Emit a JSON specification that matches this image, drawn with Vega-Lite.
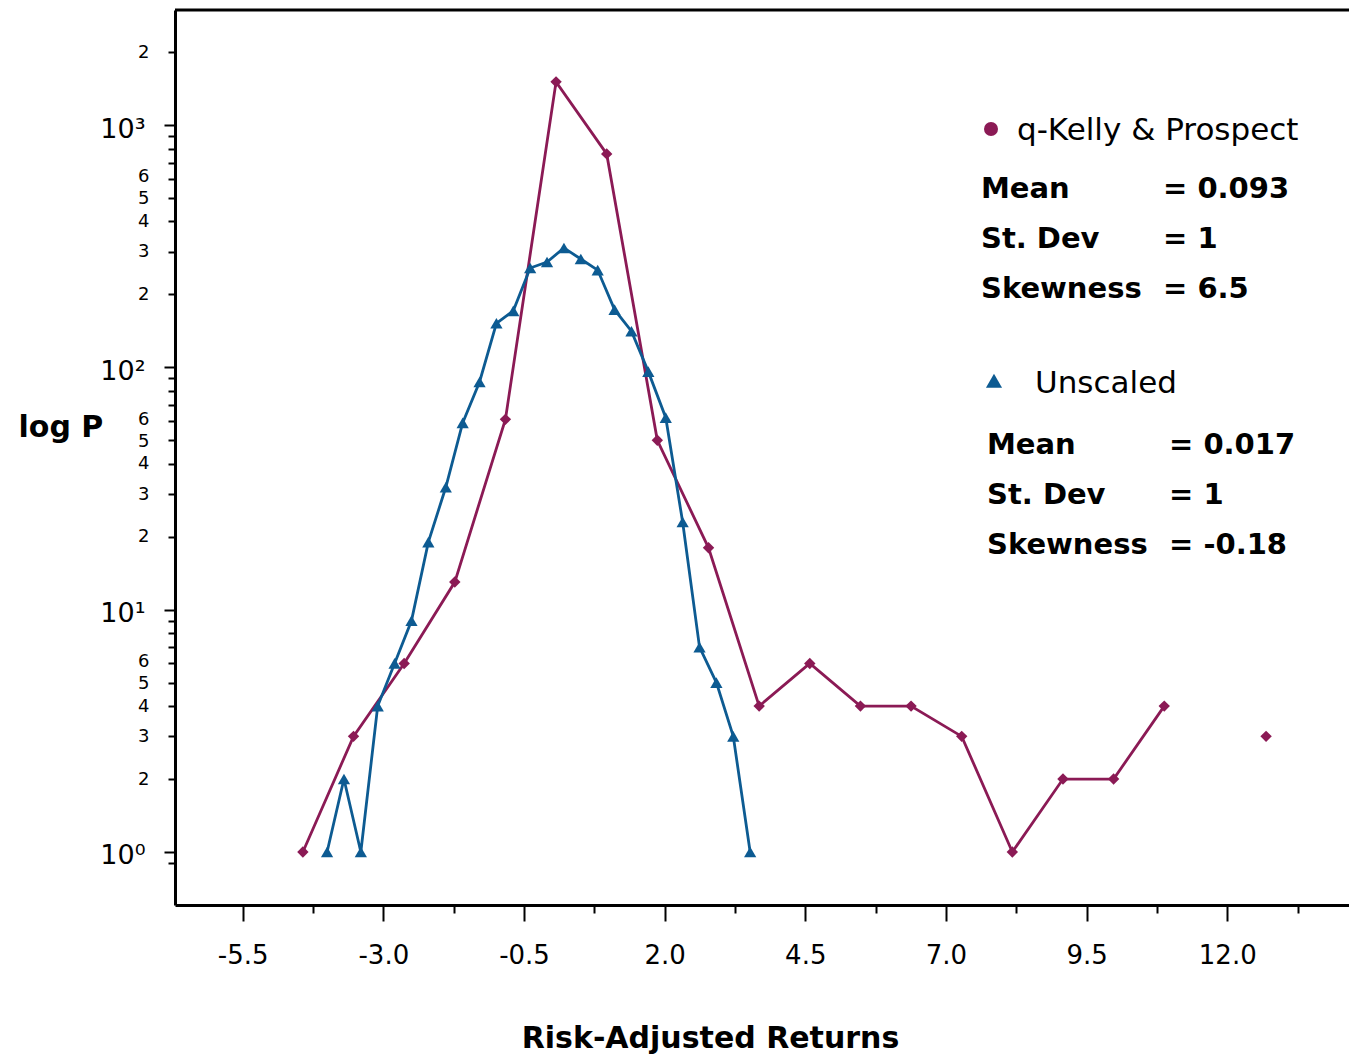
{
  "$schema": "https://vega.github.io/schema/vega-lite/v6.json",
  "width": 1174,
  "height": 895,
  "autosize": {"type": "none"},
  "padding": {"left": 175, "top": 10, "right": 0, "bottom": 152},
  "background": "white",
  "config": {"view": {"stroke": null}, "font": "DejaVu Sans"},
  "data": {
    "values": [
      {"series": "q-Kelly & Prospect", "x": -4.43, "p": 1},
      {"series": "q-Kelly & Prospect", "x": -3.53, "p": 3},
      {"series": "q-Kelly & Prospect", "x": -2.63, "p": 6},
      {"series": "q-Kelly & Prospect", "x": -1.73, "p": 13},
      {"series": "q-Kelly & Prospect", "x": -0.83, "p": 61},
      {"series": "q-Kelly & Prospect", "x": 0.07, "p": 1507},
      {"series": "q-Kelly & Prospect", "x": 0.97, "p": 760},
      {"series": "q-Kelly & Prospect", "x": 1.87, "p": 50},
      {"series": "q-Kelly & Prospect", "x": 2.78, "p": 18},
      {"series": "q-Kelly & Prospect", "x": 3.68, "p": 4},
      {"series": "q-Kelly & Prospect", "x": 4.58, "p": 6},
      {"series": "q-Kelly & Prospect", "x": 5.48, "p": 4},
      {"series": "q-Kelly & Prospect", "x": 6.38, "p": 4},
      {"series": "q-Kelly & Prospect", "x": 7.28, "p": 3},
      {"series": "q-Kelly & Prospect", "x": 8.18, "p": 1},
      {"series": "q-Kelly & Prospect", "x": 9.08, "p": 2},
      {"series": "q-Kelly & Prospect", "x": 9.98, "p": 2},
      {"series": "q-Kelly & Prospect", "x": 10.88, "p": 4},
      {"series": "q-Kelly & Prospect", "x": 11.78, "p": null},
      {"series": "q-Kelly & Prospect", "x": 12.69, "p": 3},
      {"series": "Unscaled", "x": -4.00, "p": 1},
      {"series": "Unscaled", "x": -3.70, "p": 2},
      {"series": "Unscaled", "x": -3.40, "p": 1},
      {"series": "Unscaled", "x": -3.10, "p": 4},
      {"series": "Unscaled", "x": -2.80, "p": 6},
      {"series": "Unscaled", "x": -2.50, "p": 9},
      {"series": "Unscaled", "x": -2.20, "p": 19},
      {"series": "Unscaled", "x": -1.89, "p": 32},
      {"series": "Unscaled", "x": -1.59, "p": 59},
      {"series": "Unscaled", "x": -1.29, "p": 87},
      {"series": "Unscaled", "x": -0.99, "p": 152},
      {"series": "Unscaled", "x": -0.69, "p": 171},
      {"series": "Unscaled", "x": -0.39, "p": 257},
      {"series": "Unscaled", "x": -0.09, "p": 272},
      {"series": "Unscaled", "x": 0.21, "p": 311},
      {"series": "Unscaled", "x": 0.51, "p": 280},
      {"series": "Unscaled", "x": 0.81, "p": 252},
      {"series": "Unscaled", "x": 1.11, "p": 173},
      {"series": "Unscaled", "x": 1.41, "p": 141},
      {"series": "Unscaled", "x": 1.71, "p": 96},
      {"series": "Unscaled", "x": 2.02, "p": 62},
      {"series": "Unscaled", "x": 2.32, "p": 23},
      {"series": "Unscaled", "x": 2.62, "p": 7},
      {"series": "Unscaled", "x": 2.92, "p": 5},
      {"series": "Unscaled", "x": 3.22, "p": 3},
      {"series": "Unscaled", "x": 3.52, "p": 1}
    ]
  },
  "layer": [
    {
      "mark": {"type": "line", "strokeWidth": 2.8},
      "encoding": {
        "x": {
          "field": "x", "type": "quantitative",
          "scale": {"domain": [-6.703, 14.164], "nice": false, "zero": false},
          "axis": {
            "values": [-5.5, -4.25, -3, -1.75, -0.5, 0.75, 2, 3.25, 4.5, 5.75, 7, 8.25, 9.5, 10.75, 12, 13.25],
            "labelExpr": "(datum.value + 5.5) % 2.5 != 0 ? '' : (datum.value < 0 ? '-' : '') + format(abs(datum.value), '.1f')",
            "tickSize": {"condition": {"test": "(datum.value + 5.5) % 2.5 != 0", "value": 8}, "value": 16},
            "tickWidth": 2, "tickColor": "black",
            "domainColor": "black", "domainWidth": 3,
            "labelFont": "DejaVu Sans", "labelFontSize": 26, "labelColor": "black",
            "labelBaseline": "alphabetic", "labelPadding": 42,
            "labelOverlap": false, "labelFlush": false,
            "grid": false,
            "title": "Risk-Adjusted Returns",
            "titleFont": "DejaVu Sans", "titleFontSize": 30, "titleFontWeight": "bold", "titleColor": "black",
            "titleX": 535, "titleY": 142, "titleAlign": "center", "titleBaseline": "alphabetic"
          }
        },
        "y": {
          "field": "p", "type": "quantitative",
          "scale": {"type": "log", "domain": [0.6043, 2983], "nice": false},
          "axis": {
            "values": [0.9, 1, 2, 3, 4, 5, 6, 7, 8, 9, 10, 20, 30, 40, 50, 60, 70, 80, 90, 100, 200, 300, 400, 500, 600, 700, 800, 900, 1000, 2000],
            "labelExpr": "datum.value == 1 ? '10⁰' : datum.value == 10 ? '10¹' : datum.value == 100 ? '10²' : datum.value == 1000 ? '10³' : (round(datum.value / pow(10, floor(log(datum.value) / LN10 + 1e-6))) <= 6 ? toString(round(datum.value / pow(10, floor(log(datum.value) / LN10 + 1e-6)))) : '')",
            "tickSize": {"condition": {"test": "datum.value == 1 || datum.value == 10 || datum.value == 100 || datum.value == 1000", "value": 11}, "value": 7},
            "labelFontSize": {"condition": {"test": "datum.value == 1 || datum.value == 10 || datum.value == 100 || datum.value == 1000", "value": 27}, "value": 18},
            "labelOffset": {"condition": [
              {"test": "datum.value == 1 || datum.value == 10 || datum.value == 100 || datum.value == 1000", "value": 4},
              {"test": "datum.value == 6 || datum.value == 60 || datum.value == 600", "value": -2},
              {"test": "datum.value == 5 || datum.value == 50 || datum.value == 500", "value": 1}
            ], "value": 0},
            "tickWidth": 2, "tickColor": "black",
            "domainColor": "black", "domainWidth": 3,
            "labelFont": "DejaVu Sans", "labelColor": "black",
            "labelPadding": 19, "labelOverlap": false, "labelFlush": false,
            "grid": false,
            "title": "log P",
            "titleFont": "DejaVu Sans", "titleFontSize": 30, "titleFontWeight": "bold", "titleColor": "black",
            "titleAngle": 0, "titleX": -157, "titleY": 426, "titleAlign": "left", "titleBaseline": "alphabetic"
          }
        },
        "color": {
          "field": "series", "type": "nominal",
          "scale": {"domain": ["q-Kelly & Prospect", "Unscaled"], "range": ["#8b1a55", "#0d5b92"]},
          "legend": null
        }
      }
    },
    {
      "mark": {"type": "point", "filled": true, "opacity": 1},
      "encoding": {
        "x": {"field": "x", "type": "quantitative"},
        "y": {"field": "p", "type": "quantitative"},
        "color": {"field": "series", "type": "nominal", "legend": null},
        "shape": {"field": "series", "type": "nominal", "scale": {"domain": ["q-Kelly & Prospect", "Unscaled"], "range": ["diamond", "triangle-up"]}, "legend": null},
        "size": {"field": "series", "type": "nominal", "scale": {"domain": ["q-Kelly & Prospect", "Unscaled"], "range": [130, 150]}, "legend": null}
      }
    },
    {
      "data": {"values": [{}]},
      "mark": {"type": "rule", "color": "black", "strokeWidth": 3},
      "encoding": {"y": {"datum": 2983}}
    },
    {
      "data": {"values": [{}]},
      "mark": {"type": "point", "shape": "circle", "filled": true, "opacity": 1, "color": "#8b1a55", "size": 196},
      "encoding": {"x": {"datum": 7.801}, "y": {"datum": 963}}
    },
    {
      "data": {"values": [{}]},
      "mark": {"type": "point", "shape": "triangle-up", "filled": true, "opacity": 1, "color": "#0d5b92", "size": 260},
      "encoding": {"x": {"datum": 7.854}, "y": {"datum": 88}}
    },
    {
      "data": {"values": [{}]},
      "mark": {"type": "text", "text": "q-Kelly & Prospect", "align": "left", "baseline": "middle", "font": "DejaVu Sans", "fontSize": 31, "color": "black"},
      "encoding": {"x": {"datum": 8.263}, "y": {"datum": 946}}
    },
    {
      "data": {"values": [{}]},
      "mark": {"type": "text", "text": "Unscaled", "align": "left", "baseline": "middle", "font": "DejaVu Sans", "fontSize": 31, "color": "black"},
      "encoding": {"x": {"datum": 8.583}, "y": {"datum": 85.4}}
    },
    {
      "data": {"values": [{}]},
      "mark": {"type": "text", "text": ["Mean", "St. Dev", "Skewness"], "lineHeight": 50, "align": "left", "baseline": "alphabetic", "font": "DejaVu Sans", "fontWeight": "bold", "fontSize": 29, "color": "black"},
      "encoding": {"x": {"datum": 7.623}, "y": {"datum": 498}}
    },
    {
      "data": {"values": [{}]},
      "mark": {"type": "text", "text": ["= 0.093", "= 1", "= 6.5"], "lineHeight": 50, "align": "left", "baseline": "alphabetic", "font": "DejaVu Sans", "fontWeight": "bold", "fontSize": 29, "color": "black"},
      "encoding": {"x": {"datum": 10.858}, "y": {"datum": 498}}
    },
    {
      "data": {"values": [{}]},
      "mark": {"type": "text", "text": ["Mean", "St. Dev", "Skewness"], "lineHeight": 50, "align": "left", "baseline": "alphabetic", "font": "DejaVu Sans", "fontWeight": "bold", "fontSize": 29, "color": "black"},
      "encoding": {"x": {"datum": 7.73}, "y": {"datum": 43.7}}
    },
    {
      "data": {"values": [{}]},
      "mark": {"type": "text", "text": ["= 0.017", "= 1", "= -0.18"], "lineHeight": 50, "align": "left", "baseline": "alphabetic", "font": "DejaVu Sans", "fontWeight": "bold", "fontSize": 29, "color": "black"},
      "encoding": {"x": {"datum": 10.965}, "y": {"datum": 43.7}}
    }
  ]
}
